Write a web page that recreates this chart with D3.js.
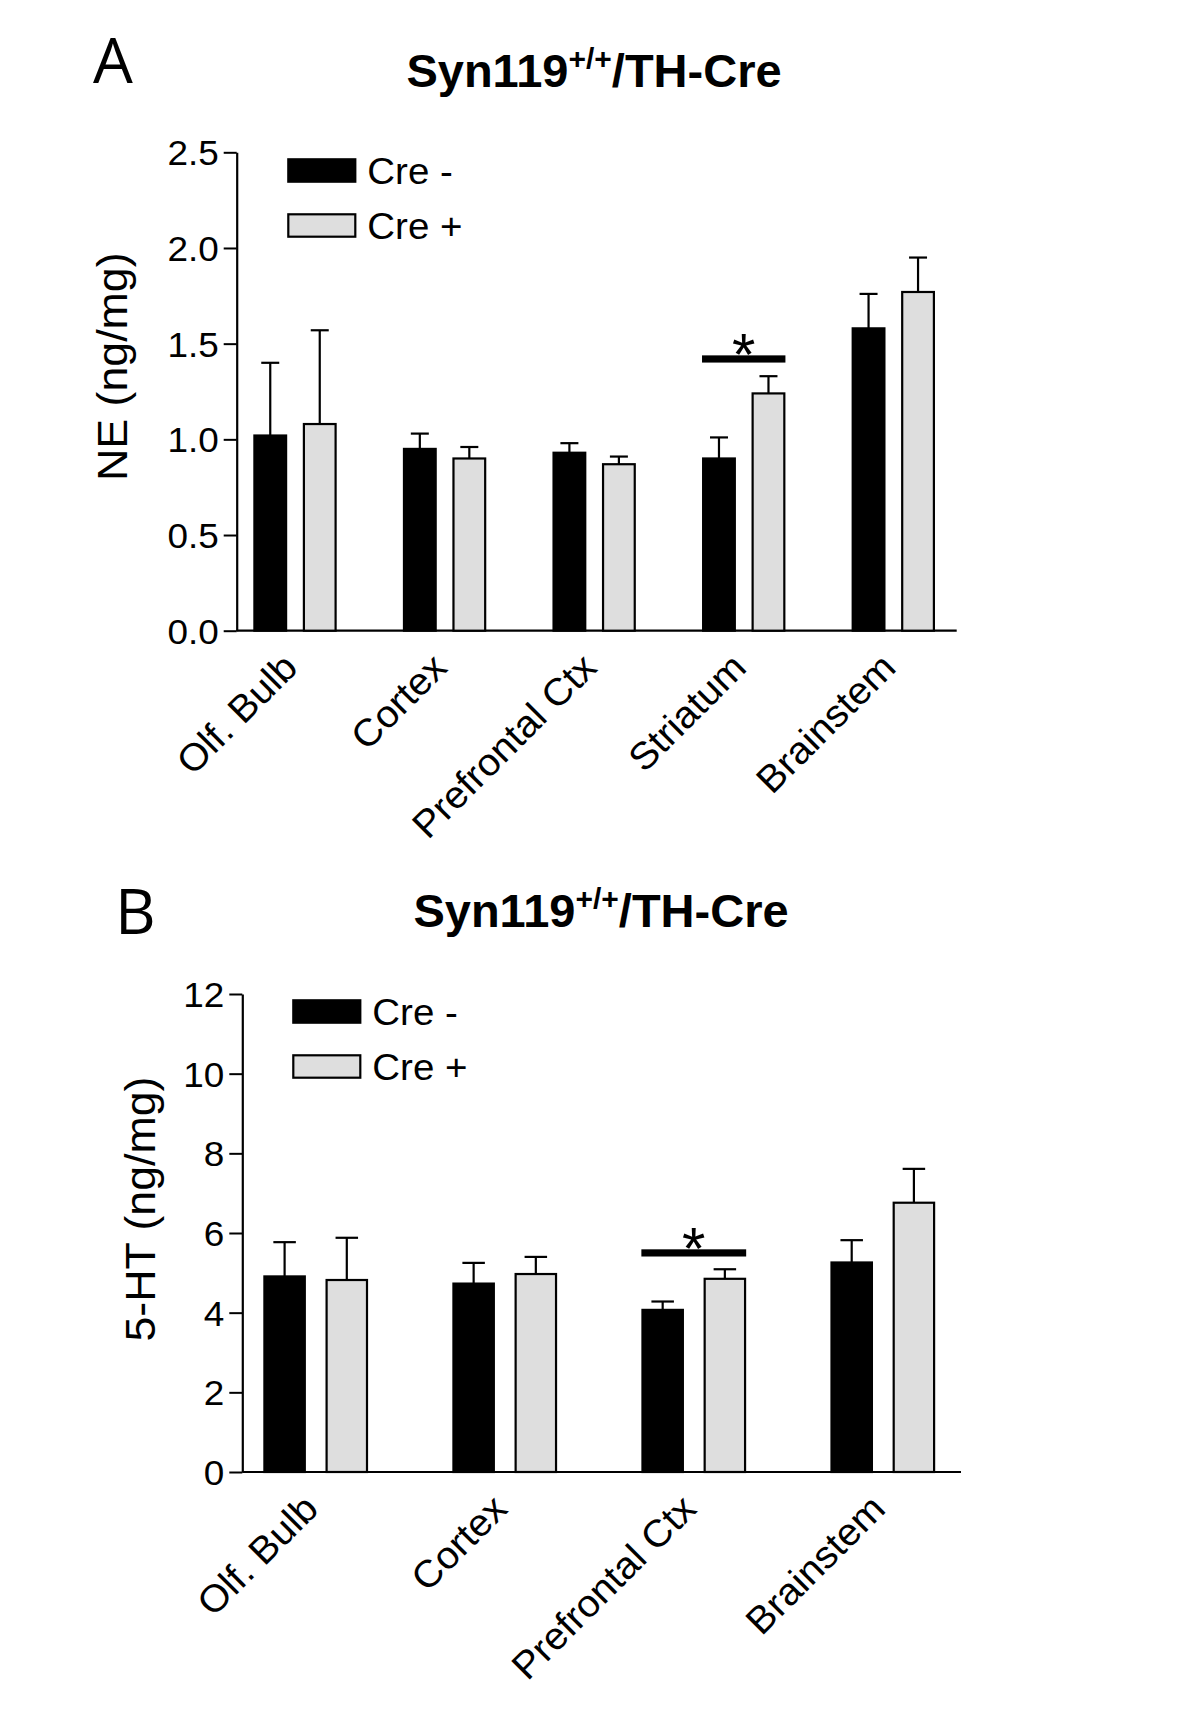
<!DOCTYPE html>
<html>
<head>
<meta charset="utf-8">
<script src="https://cdn.jsdelivr.net/npm/d3@7"></script>
<style>
  html, body { margin: 0; padding: 0; background: #fff; }
  svg { display: block; }
  text { font-family: "Liberation Sans", Arial, sans-serif; fill: #000; }
</style>
</head>
<body>
<svg id="chart" width="1200" height="1712"></svg>
<script>
// ---------------- DATA ----------------
const seriesNames = ["Cre -", "Cre +"];
const seriesColors = ["#000000", "#dedede"];

// Panel A: NE (ng/mg)
const categoriesA = ["Olf. Bulb", "Cortex", "Prefrontal Ctx", "Striatum", "Brainstem"];
const creMinusA = [1.02, 0.95, 0.93, 0.90, 1.58];
const creMinusErrA = [0.38, 0.08, 0.05, 0.11, 0.18];
const crePlusA = [1.08, 0.90, 0.87, 1.24, 1.77];
const crePlusErrA = [0.49, 0.06, 0.04, 0.09, 0.18];
const yTicksA = [0, 0.5, 1.0, 1.5, 2.0, 2.5];
const sigA = [{ category: "Striatum", y: 1.42, label: "*" }];

// Panel B: 5-HT (ng/mg)
const categoriesB = ["Olf. Bulb", "Cortex", "Prefrontal Ctx", "Brainstem"];
const creMinusB = [4.91, 4.73, 4.07, 5.26];
const creMinusErrB = [0.86, 0.52, 0.21, 0.56];
const crePlusB = [4.82, 4.97, 4.85, 6.76];
const crePlusErrB = [1.06, 0.43, 0.24, 0.85];
const yTicksB = [0, 2, 4, 6, 8, 10, 12];
const sigB = [{ category: "Prefrontal Ctx", y: 5.5, label: "*" }];

// ---------------- DRAW ----------------
const svg = d3.select("#chart");
const SX = 1.04; // slight horizontal stretch of the figure's sans text

function panel(cfg) {
  const g = svg.append("g");
  const y = d3.scaleLinear().domain(cfg.yDomain).range([cfg.y0, cfg.yTop]);
  const x = d3.scalePoint().domain(cfg.categories).range(cfg.xRange);
  const inner = d3.scaleBand().domain(seriesNames)
    .range([-cfg.groupHalf, cfg.groupHalf]).paddingInner(0.315);

  // panel letter
  g.append("text").attr("x", cfg.letterX).attr("y", cfg.letterY)
    .style("font-family", "'Open Sans', 'Noto Sans', sans-serif")
    .style("font-size", "63px").text(cfg.letter);

  // title
  const t = g.append("text").attr("x", cfg.titleX).attr("y", cfg.titleY)
    .attr("text-anchor", "middle")
    .style("font-weight", "bold").style("font-size", "47px");
  t.append("tspan").text("Syn119");
  t.append("tspan").attr("dy", -18).style("font-size", "30px").text("+/+");
  t.append("tspan").attr("dy", 18).text("/TH-Cre");

  // y axis
  const yAxis = g.append("g").attr("transform", `translate(${cfg.axisX},0)`)
    .call(d3.axisLeft(y).tickValues(cfg.yTicks).tickSize(13).tickSizeOuter(0)
      .tickPadding(6).tickFormat(cfg.tickFormat));
  yAxis.selectAll("path.domain").attr("stroke", "#000").attr("stroke-width", 2.2);
  yAxis.selectAll(".tick line").attr("stroke", "#000").attr("stroke-width", 2);
  yAxis.selectAll(".tick text")
    .attr("x", -18 / SX).attr("dy", "0.35em").attr("transform", `scale(${SX},1)`)
    .style("font-family", "'Liberation Sans', Arial, sans-serif")
    .style("font-size", "35.5px").attr("fill", "#000");

  // y label
  g.append("text")
    .attr("transform", `translate(${cfg.ylabX},${cfg.ylabY}) rotate(-90) scale(${SX},1)`)
    .attr("text-anchor", "middle").style("font-size", "43px").text(cfg.yLabel);

  // x axis (labels via d3 axis, baseline drawn to full width)
  const xAxis = g.append("g").attr("transform", `translate(0,${cfg.y0})`)
    .call(d3.axisBottom(x).tickSize(0));
  xAxis.select("path.domain").remove();
  xAxis.selectAll(".tick text")
    .attr("x", 0).attr("y", 0).attr("dy", 0)
    .attr("text-anchor", "end")
    .attr("transform", `translate(4,39) rotate(-45) scale(${SX},1)`)
    .style("font-family", "'Liberation Sans', Arial, sans-serif")
    .style("font-size", "38px").attr("fill", "#000");
  g.append("line").attr("x1", cfg.axisX).attr("x2", cfg.xEnd)
    .attr("y1", cfg.y0).attr("y2", cfg.y0)
    .attr("stroke", "#000").attr("stroke-width", 2.2);

  // bars
  const rows = [];
  cfg.categories.forEach((c, i) => {
    rows.push({ c, s: seriesNames[0], v: cfg.minus[i], e: cfg.minusErr[i], col: seriesColors[0] });
    rows.push({ c, s: seriesNames[1], v: cfg.plus[i], e: cfg.plusErr[i], col: seriesColors[1] });
  });
  const bw = inner.bandwidth();
  const bars = g.append("g");
  bars.selectAll("line.err").data(rows).join("line").attr("class", "err")
    .attr("x1", d => x(d.c) + inner(d.s) + bw / 2)
    .attr("x2", d => x(d.c) + inner(d.s) + bw / 2)
    .attr("y1", d => y(d.v)).attr("y2", d => y(d.v + d.e))
    .attr("stroke", "#000").attr("stroke-width", 2.2);
  bars.selectAll("line.cap").data(rows).join("line").attr("class", "cap")
    .attr("x1", d => x(d.c) + inner(d.s) + bw / 2 - cfg.capHalf)
    .attr("x2", d => x(d.c) + inner(d.s) + bw / 2 + cfg.capHalf)
    .attr("y1", d => y(d.v + d.e)).attr("y2", d => y(d.v + d.e))
    .attr("stroke", "#000").attr("stroke-width", 2.2);
  bars.selectAll("rect").data(rows).join("rect")
    .attr("x", d => x(d.c) + inner(d.s) + 1.1)
    .attr("width", bw - 2.2)
    .attr("y", d => y(d.v))
    .attr("height", d => y(0) - y(d.v))
    .attr("fill", d => d.col).attr("stroke", "#000").attr("stroke-width", 2.2);

  // significance
  cfg.sig.forEach(s => {
    const x1 = x(s.category) + inner(seriesNames[0]);
    const x2 = x(s.category) + inner(seriesNames[1]) + bw;
    g.append("rect").attr("x", x1).attr("width", x2 - x1)
      .attr("y", y(s.y) - 3.6).attr("height", 7.2).attr("fill", "#000");
    g.append("text").attr("x", (x1 + x2) / 2).attr("y", y(s.y) - 19 + 0.58 * 60)
      .attr("text-anchor", "middle").style("font-size", "60px").text(s.label);
  });

  // legend
  const leg = g.append("g");
  seriesNames.forEach((n, i) => {
    const yy = cfg.legY + i * 55;
    leg.append("rect").attr("x", cfg.legX + 1).attr("y", yy + 1)
      .attr("width", 67).attr("height", 22.4)
      .attr("fill", seriesColors[i]).attr("stroke", "#000").attr("stroke-width", 2.2);
    leg.append("text")
      .attr("transform", `translate(${cfg.legX + 80},${yy + 25.5}) scale(${SX},1)`)
      .style("font-size", "37px").text(n);
  });
}

panel({
  letter: "A", letterX: 93, letterY: 82.7,
  titleX: 594, titleY: 86.5,
  categories: categoriesA, minus: creMinusA, minusErr: creMinusErrA,
  plus: crePlusA, plusErr: crePlusErrA,
  yDomain: [0, 2.5], yTicks: yTicksA, tickFormat: d3.format(".1f"),
  y0: 630.7, yTop: 152.3, axisX: 236.7, xEnd: 956.7,
  xRange: [295, 893.3], groupHalf: 41.7, capHalf: 9,
  yLabel: "NE (ng/mg)", ylabX: 127, ylabY: 366.7,
  sig: sigA, legX: 287.3, legY: 158.3
});

panel({
  letter: "B", letterX: 115, letterY: 934,
  titleX: 601, titleY: 926.5,
  categories: categoriesB, minus: creMinusB, minusErr: creMinusErrB,
  plus: crePlusB, plusErr: crePlusErrB,
  yDomain: [0, 12], yTicks: yTicksB, tickFormat: d3.format("d"),
  y0: 1472, yTop: 994, axisX: 242.3, xEnd: 961,
  xRange: [315.7, 882.8], groupHalf: 52.4, capHalf: 11.25,
  yLabel: "5-HT (ng/mg)", ylabX: 155, ylabY: 1209,
  sig: sigB, legX: 292.3, legY: 999.3
});
</script>
</body>
</html>
